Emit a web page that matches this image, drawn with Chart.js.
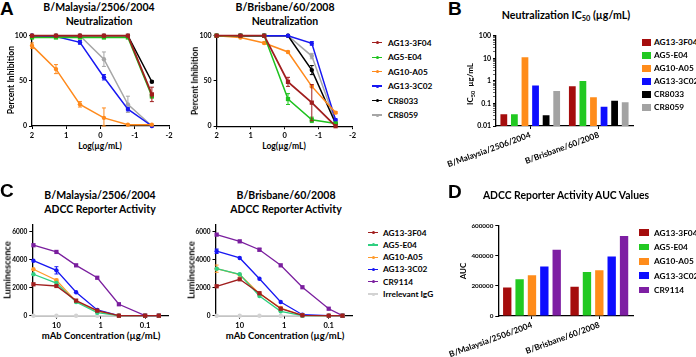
<!DOCTYPE html>
<html><head><meta charset="utf-8">
<script src="https://cdn.jsdelivr.net/npm/chart.js@4.4.0/dist/chart.umd.min.js"></script>
<style>
html,body{margin:0;padding:0;background:#fff;}
body{width:696px;height:357px;position:relative;overflow:hidden;font-family:Lato,'Open Sans',sans-serif;color:#000;}
canvas{position:absolute;}
.t{position:absolute;white-space:nowrap;font-weight:bold;}
.letter{font:bold 19px 'Liberation Sans',Arial,sans-serif;line-height:19px;}
.title{font-size:10.5px;line-height:14px;text-align:center;transform:translateX(-50%);}
.ax{line-height:1.2;transform:translate(-50%,-50%);}
.ay{line-height:1.2;transform:translate(-50%,-50%) rotate(-90deg);}
sub{font-size:70%;vertical-align:-0.25em;line-height:0;}
.leg{font-size:8.3px;line-height:1;transform:translateY(-50%);}
.mk{position:absolute;}
</style>
</head><body>
<script>
// ---------- DATA ----------
// Panel A: neutralization (x = log10 µg/mL)
const neutLogConc = [2, 1.3, 0.6, -0.1, -0.8, -1.5];
const neutXTicks = [2, 1, 0, -1, -2];
const neutYTicks = [0, 50, 100];
const neutNames = ['AG13-3F04', 'AG5-E04', 'AG10-A05', 'AG13-3C02', 'CR8033', 'CR8059'];

const malNeut3F04 = [100, 100, 100, 100, 100, 35];
const malNeutE04  = [98, 98, 98, 98, 98, 33];
const malNeutA05  = [89, 63, 24, 9, 1.5, 1.5];
const malNeut3C02 = [100, 99, 92.6, 54, 18.7, 0];
const malNeut8033 = [100, 100, 100, 100, 100, 49];
const malNeut8059 = [100, 100, 100, 74, 24, 0];
const malErr3F04 = [0, 0, 0, 0, 0, 8];
const malErrE04  = [0, 0, 0, 0, 0, 2];
const malErrA05  = [3, 5, 3, 11, 0, 0];
const malErr3C02 = [0, 0, 2, 3, 2, 0];
const malErr8033 = [0, 0, 0, 0, 0, 1];
const malErr8059 = [0, 0, 0, 8, 9, 0];

const brNeut3F04 = [100, 100, 100, 49, 26, 0];
const brNeutE04  = [100, 100, 100, 30, 7, 3];
const brNeutA05  = [100, 98, 92, 82, 44, 15];
const brNeut3C02 = [100, 100, 100, 100, 91.5, 7];
const brNeut8033 = [100, 100, 100, 100, 62, 3];
const brNeut8059 = [100, 100, 100, 100, 77.5, 5];
const brErr3F04 = [0, 0, 0, 5, 20, 0];
const brErrE04  = [0, 0, 0, 6, 3, 1];
const brErrA05  = [0, 0, 1, 1, 1, 1];
const brErr3C02 = [0, 0, 0, 0, 2, 1];
const brErr8033 = [0, 0, 0, 0, 5, 0];
const brErr8059 = [0, 0, 0, 0, 3, 0];

// Panel B: IC50 (µg/mL)
const strains = ['B/Malaysia/2506/2004', 'B/Brisbane/60/2008'];
const ic50_3F04 = [0.033, 0.58];
const ic50_E04  = [0.033, 0.98];
const ic50_A05  = [11, 0.186];
const ic50_3C02 = [0.62, 0.072];
const ic50_8033 = [0.030, 0.132];
const ic50_8059 = [0.355, 0.112];
const ic50MajorTicks = [0.01, 0.1, 1, 10, 100];
const ic50TickLabels = ['0.01', '0.1', '1', '10', '100'];

// Panel C: ADCC reporter (x = µg/mL)
const adccConc = [33, 10, 3.6, 1.2, 0.39, 0.1, 0.049];
const adccXTicks = [10, 1, 0.1];
const adccXTickLabels = ['10', '1', '0.1'];
const adccYTicks = [0, 2000, 4000, 6000];
const adccNames = ['AG13-3F04', 'AG5-E04', 'AG10-A05', 'AG13-3C02', 'CR9114', 'Irrelevant IgG'];

const malAdcc3F04 = [2250, 2130, 1080, 360, 0, 0, 0];
const malAdccE04  = [2970, 2340, 980, 215, 0, 0, 0];
const malAdccA05  = [3330, 2540, 1030, 315, 0, 0, 0];
const malAdcc3C02 = [3940, 3250, 1680, 410, 0, 0, 0];
const malAdcc9114 = [5050, 4570, 3610, 2720, 820, 0, 0];
const malAdccIgG  = [0, 0, 0, 0, 0, 0, 0];
const malAdccErr3C02 = [0, 260, 0, 0, 0, 0, 0];
const malAdccErrA05  = [0, 80, 0, 0, 0, 0, 0];

const brAdcc3F04 = [2110, 2610, 1610, 500, 30, 0, 0];
const brAdccE04  = [3370, 2970, 1410, 315, 0, 0, 0];
const brAdccA05  = [3370, 2940, 1580, 550, 30, 0, 0];
const brAdcc3C02 = [4620, 4140, 2650, 980, 70, 0, 0];
const brAdcc9114 = [5810, 5330, 4730, 3610, 2040, 500, 0];
const brAdccIgG  = [0, 0, 0, 0, 0, 0, 0];
const brAdccErr3C02 = [160, 0, 0, 0, 0, 0, 0];
const brAdccErrA05  = [260, 0, 0, 0, 0, 0, 0];
const brAdccErr9114 = [0, 0, 100, 0, 0, 0, 0];

// Panel D: AUC
const aucNames = ['AG13-3F04', 'AG5-E04', 'AG10-A05', 'AG13-3C02', 'CR9114'];
const auc3F04 = [190000, 195000];
const aucE04  = [245000, 292000];
const aucA05  = [270000, 304000];
const auc3C02 = [329000, 396000];
const auc9114 = [440000, 531000];
const aucYTicks = [0, 200000, 400000, 600000];

// ---------- STYLE ----------
const FONT = 'Lato';
const colA = ['#a01e1e', '#1ec21e', '#ff8a1c', '#1717f2', '#000000', '#a6a6a6'];
const colC = ['#a01e1e', '#2fcf80', '#ff9a2a', '#1717f2', '#7a1e9e', '#d3d3d3'];
const colBarB = ['#a50d0d', '#22c922', '#ff8c1a', '#0d0dff', '#000000', '#a3a3a3'];
const colBarD = ['#a50d0d', '#22c922', '#ff8c1a', '#0d0dff', '#7e1fa3'];

// ---------- HELPERS ----------
function addText(html, cls, x, y, size) {
  const d = document.createElement('div');
  d.className = 't ' + cls; d.innerHTML = html;
  d.style.left = x + 'px'; d.style.top = y + 'px';
  if (size) d.style.fontSize = size + 'px';
  document.body.appendChild(d); return d;
}
function addBox(x, y, w, h, color, radius) {
  const d = document.createElement('div');
  d.className = 'mk';
  d.style.cssText = `left:${x}px;top:${y}px;width:${w}px;height:${h}px;background:${color};border-radius:${radius||0}px`;
  document.body.appendChild(d);
}
function lineLegend(names, colors, mx, tx, y0, dy) {
  names.forEach((n, i) => {
    const y = y0 + i * dy;
    addBox(mx - 4.7, y - 0.6, 9.4, 1.2, colors[i]);
    addBox(mx - 1.5, y - 1.5, 3, 3, colors[i], 1.5);
    addText(n, 'leg', tx, y);
  });
}
function boxLegend(names, colors, bx, bw, bh, tx, y0, dy) {
  names.forEach((n, i) => {
    const y = y0 + i * dy;
    addBox(bx, y - bh / 2, bw, bh, colors[i]);
    addText(n, 'leg', tx, y);
  });
}
function placeCanvas(box) {
  const c = document.createElement('canvas');
  c.width = box.w; c.height = box.h;
  c.style.left = box.x0 + 'px'; c.style.top = box.y0 + 'px';
  c.style.width = box.w + 'px'; c.style.height = box.h + 'px';
  document.body.appendChild(c);
  return c;
}
function zeroPad(s) { s.paddingLeft = 0; s.paddingRight = 0; s.paddingTop = 0; s.paddingBottom = 0; }
function tickFont(size) { return {family: FONT, size: size, weight: 'bold'}; }
function axis(extra) {
  return Object.assign({
    border: {display: true, color: '#000', width: 1.3},
    grid: {display: true, drawOnChartArea: false, drawTicks: true, tickLength: 3, color: '#000', tickColor: '#000', tickWidth: 1},
  }, extra);
}
function fixedTicks(values) {
  return s => { s.ticks = values.map(v => ({value: v})); };
}
function makeOptions(box, xs, ys) {
  const yw = box.L - box.x0, xh = box.y0 + box.h - box.B;
  xs.afterFit = s => { s.height = xh; zeroPad(s); };
  ys.afterFit = s => { s.width = yw; zeroPad(s); };
  return {
    responsive: false, animation: false, devicePixelRatio: 1,
    layout: {autoPadding: false, padding: {left: 0, top: box.T - box.y0, right: box.x0 + box.w - box.R, bottom: 0}},
    plugins: {legend: {display: false}, tooltip: {enabled: false}, title: {display: false}},
    scales: {x: xs, y: ys}
  };
}
const errorBars = {
  id: 'errorBars',
  afterDatasetDraw(chart, args) {
    const ds = chart.data.datasets[args.index];
    if (!ds.errors) return;
    const meta = args.meta, ys = chart.scales[meta.yAxisID], ctx = chart.ctx;
    ctx.save();
    ctx.strokeStyle = ds.borderColor; ctx.lineWidth = 1;
    meta.data.forEach((pt, i) => {
      const e = ds.errors[i]; if (!e) return;
      const v = ds.data[i].y;
      const y1 = ys.getPixelForValue(v + e), y2 = ys.getPixelForValue(Math.max(v - e, ys.min));
      ctx.beginPath();
      ctx.moveTo(pt.x, y1); ctx.lineTo(pt.x, y2);
      ctx.moveTo(pt.x - 2, y1); ctx.lineTo(pt.x + 2, y1);
      ctx.moveTo(pt.x - 2, y2); ctx.lineTo(pt.x + 2, y2);
      ctx.stroke();
    });
    ctx.restore();
  }
};
function lineDS(label, xv, yv, errs, color, style, lw) {
  return {
    label, data: xv.map((x, i) => ({x, y: yv[i]})), errors: errs,
    borderColor: color, backgroundColor: color, borderWidth: lw || 1.5,
    pointRadius: style === 'rect' ? 3 : 2.2, pointStyle: style, pointBorderWidth: 0,
    pointBackgroundColor: color, clip: false, tension: 0
  };
}

// ---------- PANEL A ----------
function neutChart(box, series, errs) {
  const styles = ['rect', 'rect', 'circle', 'circle', 'circle', 'circle'];
  const xs = axis({type: 'linear', min: -2, max: 2, reverse: true, afterBuildTicks: fixedTicks(neutXTicks),
    ticks: {color: '#000', font: tickFont(7.5), padding: 2, autoSkip: false, callback: v => String(v)}});
  const ys = axis({type: 'linear', min: 0, max: 100, afterBuildTicks: fixedTicks(neutYTicks),
    ticks: {color: '#000', font: tickFont(7), padding: 2, callback: v => String(v)}});
  new Chart(placeCanvas(box), {
    type: 'line',
    data: {datasets: neutNames.map((n, i) => lineDS(n, neutLogConc, series[i], errs[i], colA[i], styles[i], i === 0 ? 1.8 : 1.5))},
    options: makeOptions(box, xs, ys), plugins: [errorBars]
  });
}
neutChart({x0: 4, y0: 28, w: 171, h: 112, L: 32, T: 35.7, R: 169, B: 126},
  [malNeut3F04, malNeutE04, malNeutA05, malNeut3C02, malNeut8033, malNeut8059],
  [malErr3F04, malErrE04, malErrA05, malErr3C02, malErr8033, malErr8059]);
neutChart({x0: 190, y0: 28, w: 170, h: 112, L: 216.6, T: 35.7, R: 352.6, B: 126.2},
  [brNeut3F04, brNeutE04, brNeutA05, brNeut3C02, brNeut8033, brNeut8059],
  [brErr3F04, brErrE04, brErrA05, brErr3C02, brErr8033, brErr8059]);

addText('A', 'letter', 0, -1);
addText('B/Malaysia/2506/2004<br>Neutralization', 'title', 99, 0);
addText('B/Brisbane/60/2008<br>Neutralization', 'title', 285, 0);
addText('Percent Inhibition', 'ay', 11, 80, 8.6);
addText('Percent Inhibition', 'ay', 195, 81, 8.6);
addText('Log(µg/mL)', 'ax', 100, 146, 8.5);
addText('Log(µg/mL)', 'ax', 284, 146, 8.5);
lineLegend(neutNames, colA, 377, 388, 42.7, 14.46);

// ---------- PANEL B ----------
(function () {
  const box = {x0: 436, y0: 26, w: 200, h: 164, L: 496, T: 35.7, R: 633, B: 126};
  const minor = [];
  [0.01, 0.1, 1, 10].forEach(d => { for (let k = 2; k <= 9; k++) minor.push(+(d * k).toPrecision(3)); });
  const allTicks = ic50MajorTicks.map(v => ({value: v, major: true})).concat(minor.map(v => ({value: v, major: false})));
  const xs = axis({type: 'category', offset: true,
    grid: {display: true, offset: false, drawOnChartArea: false, drawTicks: true, tickLength: 3, color: '#000', tickColor: '#000'},
    ticks: {color: '#000', font: tickFont(8.3), padding: 1, minRotation: 20, maxRotation: 20, autoSkip: false}});
  const ys = axis({type: 'logarithmic', min: 0.01, max: 100,
    afterBuildTicks: s => { s.ticks = allTicks.map(t => ({value: t.value, major: t.major})); },
    grid: {display: true, drawOnChartArea: false, drawTicks: true, tickLength: 3, color: '#000',
      tickColor: '#000', tickWidth: c => (c.tick && c.tick.major) ? 1 : 0.6},
    ticks: {color: '#000', font: tickFont(7), padding: 2, autoSkip: false,
      callback: v => { const k = ic50MajorTicks.indexOf(v); return k >= 0 ? ic50TickLabels[k] : ''; }}});
  const sets = [ic50_3F04, ic50_E04, ic50_A05, ic50_3C02, ic50_8033, ic50_8059];
  new Chart(placeCanvas(box), {
    type: 'bar',
    data: {labels: strains, datasets: sets.map((d, i) => ({label: neutNames[i], data: d, backgroundColor: colBarB[i],
      borderWidth: 0, categoryPercentage: 0.926, barPercentage: 0.64}))},
    options: makeOptions(box, xs, ys)
  });
})();
addText('B', 'letter', 448, -1);
addText('Neutralization IC<sub>50</sub> (µg/mL)', 'title', 566, 8, 10.6);
addText('IC<sub>50</sub>&nbsp; µg/mL', 'ay', 471, 84, 8);
boxLegend(neutNames, colBarB, 641.7, 9.3, 6.7, 654, 42.3, 13);

// ---------- PANEL C ----------
function adccChart(box, series, errs) {
  const styles = ['rect', 'circle', 'circle', 'circle', 'rect', 'circle'];
  const xs = axis({type: 'logarithmic', min: 0.03, max: 35, reverse: true, afterBuildTicks: fixedTicks(adccXTicks),
    ticks: {color: '#000', font: tickFont(7.5), padding: 2, autoSkip: false,
      callback: v => adccXTickLabels[adccXTicks.indexOf(v)]}});
  const ys = axis({type: 'linear', min: 0, max: 6500, afterBuildTicks: fixedTicks(adccYTicks),
    ticks: {color: '#000', font: tickFont(6.5), padding: 2, callback: v => String(v)}});
  new Chart(placeCanvas(box), {
    type: 'line',
    data: {datasets: adccNames.map((n, i) => lineDS(n, adccConc, series[i], errs[i], colC[i], styles[i], 1.3))},
    options: makeOptions(box, xs, ys), plugins: [errorBars]
  });
}
adccChart({x0: 4, y0: 218, w: 172, h: 112, L: 32.3, T: 225, R: 168.3, B: 315.7},
  [malAdcc3F04, malAdccE04, malAdccA05, malAdcc3C02, malAdcc9114, malAdccIgG],
  [null, null, malAdccErrA05, malAdccErr3C02, null, null]);
adccChart({x0: 186, y0: 218, w: 174, h: 112, L: 215.5, T: 225, R: 352, B: 315.7},
  [brAdcc3F04, brAdccE04, brAdccA05, brAdcc3C02, brAdcc9114, brAdccIgG],
  [null, null, brAdccErrA05, brAdccErr3C02, brAdccErr9114, null]);
addText('C', 'letter', 0, 181);
addText('B/Malaysia/2506/2004<br>ADCC Reporter Activity', 'title', 100, 188);
addText('B/Brisbane/60/2008<br>ADCC Reporter Activity', 'title', 286, 188);
addText('Luminescence', 'ay', 6.5, 270, 9.2);
addText('Luminescence', 'ay', 191, 270, 9.2);
addText('mAb Concentration (µg/mL)', 'ax', 101, 336, 9.5);
addText('mAb Concentration (µg/mL)', 'ax', 285, 336, 9.5);
lineLegend(adccNames, colC, 373, 383, 232.7, 12.26);

// ---------- PANEL D ----------
(function () {
  const box = {x0: 436, y0: 218, w: 200, h: 139, L: 498.3, T: 225.7, R: 633, B: 316};
  const xs = axis({type: 'category', offset: true,
    grid: {display: true, offset: false, drawOnChartArea: false, drawTicks: true, tickLength: 3, color: '#000', tickColor: '#000'},
    ticks: {color: '#000', font: tickFont(8.3), padding: 1, minRotation: 20, maxRotation: 20, autoSkip: false}});
  const ys = axis({type: 'linear', min: 0, max: 600000, afterBuildTicks: fixedTicks(aucYTicks),
    ticks: {color: '#000', font: tickFont(6.3), padding: 2, callback: v => String(v)}});
  const sets = [auc3F04, aucE04, aucA05, auc3C02, auc9114];
  new Chart(placeCanvas(box), {
    type: 'bar',
    data: {labels: strains, datasets: sets.map((d, i) => ({label: aucNames[i], data: d, backgroundColor: colBarD[i],
      borderWidth: 0, categoryPercentage: 0.918, barPercentage: 0.675}))},
    options: makeOptions(box, xs, ys)
  });
})();
addText('D', 'letter', 448, 182);
addText('ADCC Reporter Activity AUC Values', 'title', 566, 188, 10.4);
addText('AUC', 'ay', 464, 271, 8);
boxLegend(aucNames, colBarD, 639, 10, 6.7, 654, 232.7, 14.3);
</script>
</body></html>
